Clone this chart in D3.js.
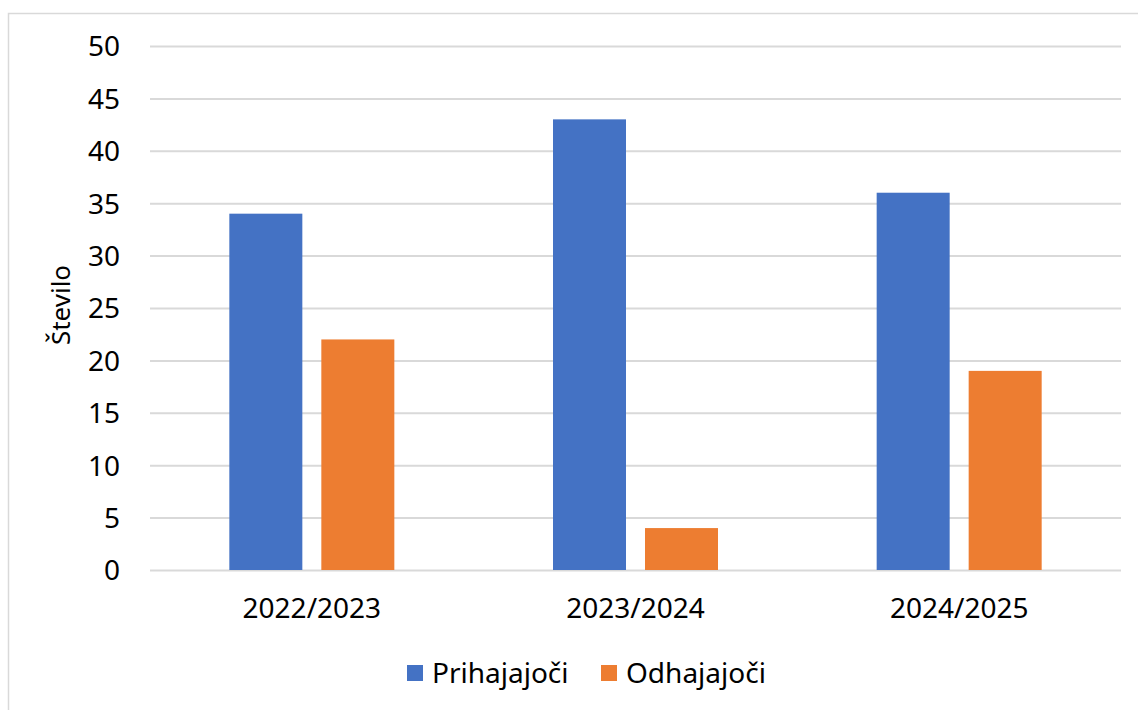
<!DOCTYPE html>
<html><head><meta charset="utf-8">
<script src="https://cdn.jsdelivr.net/npm/d3@7"></script>
<style>body{margin:0;background:#fff}svg{display:block}text{font-family:"Noto Sans",sans-serif;fill:#000}</style>
</head><body><svg id="c" width="1138" height="710"></svg>
<script>
const categories = ["2022/2023","2023/2024","2024/2025"];
const seriesNames = ["Prihajajoči","Odhajajoči"];
const prihajajoci = [34,43,36];
const odhajajoci = [22,4,19];
const yTicks = [0,5,10,15,20,25,30,35,40,45,50];
const colors = ["#4472C4","#ED7D31"];
const yTitle = "Število";

(function(){
const svg = d3.select("#c");
svg.append("rect").attr("x",8.5).attr("y",13.5).attr("width",1140).attr("height",720)
  .attr("fill","#fff").attr("stroke","#d9d9d9").attr("stroke-width",1.5);

const pL=150,pR=1121,pT=46,pB=570;
const y = d3.scaleLinear().domain([0,50]).range([pB,pT]);
const x0 = d3.scaleBand().domain(categories).range([pL,pR]).padding(0);
const gw = 165, off=(x0.bandwidth()-gw)/2;
const x1 = d3.scaleBand().domain(seriesNames).range([off,off+gw]).paddingInner(0.2065).paddingOuter(0);

const ya = svg.append("g").attr("transform",`translate(${pL},0)`)
  .call(d3.axisLeft(y).tickValues(yTicks).tickSize(-(pR-pL)).tickPadding(30));
ya.select(".domain").remove();
ya.selectAll(".tick line").attr("stroke","#d9d9d9").attr("stroke-width",2);
ya.selectAll(".tick text").attr("font-size",28).attr("font-family","Noto Sans").attr("fill","#000").attr("dy","0.35em");

const data = categories.map((c,i)=>({c, vals:[prihajajoci[i],odhajajoci[i]]}));
const g = svg.append("g");
data.forEach(d=>{
  d.vals.forEach((v,j)=>{
    g.append("rect").attr("x",x0(d.c)+x1(seriesNames[j])).attr("width",x1.bandwidth())
      .attr("y",y(v)).attr("height",y(0)-y(v)).attr("fill",colors[j]);
  });
});

const xa = svg.append("g").attr("transform",`translate(0,${pB})`)
  .call(d3.axisBottom(x0).tickSize(0).tickPadding(28));
xa.select(".domain").remove();
xa.selectAll(".tick text").attr("font-size",28).attr("font-family","Noto Sans").attr("fill","#000");

svg.append("text").attr("transform","translate(70,305) rotate(-90)").attr("text-anchor","middle")
  .attr("font-size",26).text(yTitle);

const lx=[407,601];
seriesNames.forEach((s,i)=>{
  svg.append("rect").attr("x",lx[i]).attr("y",665).attr("width",16).attr("height",16).attr("fill",colors[i]);
  svg.append("text").attr("x",lx[i]+25).attr("y",673).attr("dy","0.35em").attr("font-size",28).text(s);
});
})();
</script></body></html>
